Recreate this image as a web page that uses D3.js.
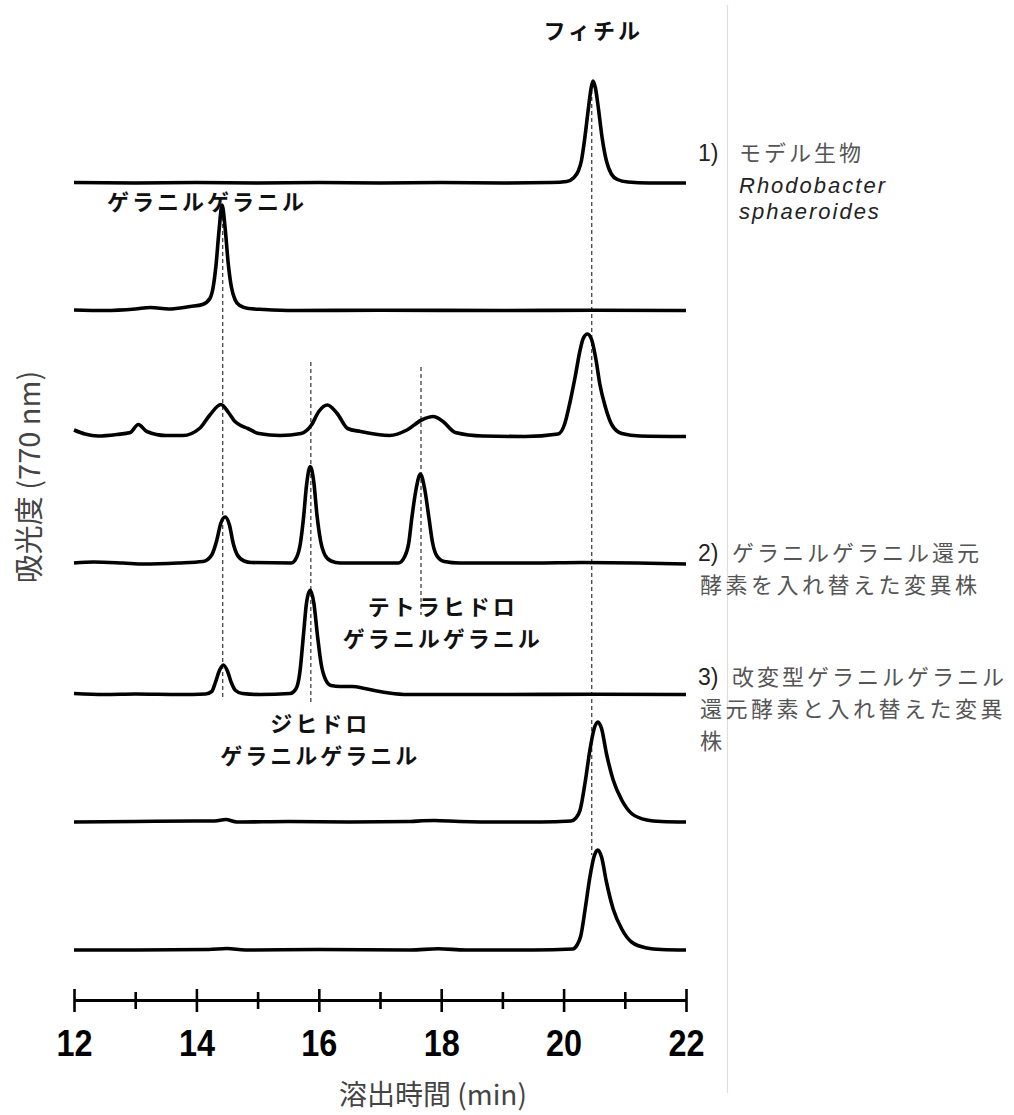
<!DOCTYPE html>
<html>
<head>
<meta charset="utf-8">
<script src="https://cdn.jsdelivr.net/npm/d3@7"></script>
<style>
  html, body { margin: 0; padding: 0; background: #fff; }
  svg { display: block; }
</style>
</head>
<body>
<svg id="chart" width="1014" height="1115"></svg>
<script>
// ---------------- DATA ----------------
const timeTicks = [12, 13, 14, 15, 16, 17, 18, 19, 20, 21, 22];
const labelTicks = [12, 14, 16, 18, 20, 22];

// vertical offsets of the stacked chromatograms (absorbance units)
const offsets = [8.17, 6.895, 5.635, 4.37, 3.055, 1.78, 0.5];

// [time (min), absorbance above trace baseline]
const trace1 = [[12,0.005],[13,0],[14,0.005],[15,0],[16,0.005],[17,0],[18,0.005],[19,0],[19.8,0.005],[20.05,0.015],[20.16,0.05],[20.24,0.12],[20.29,0.22],[20.34,0.42],[20.40,0.72],[20.45,0.95],[20.48,1.02],[20.52,0.95],[20.57,0.74],[20.63,0.45],[20.70,0.22],[20.78,0.09],[20.88,0.035],[21.05,0.01],[21.4,0],[22,0]];

const trace2 = [[12,0.005],[12.5,0],[13.0,0.015],[13.25,0.03],[13.55,0.015],[13.9,0.04],[14.1,0.06],[14.22,0.12],[14.27,0.22],[14.32,0.45],[14.37,0.80],[14.42,1.055],[14.47,0.82],[14.52,0.47],[14.57,0.24],[14.63,0.11],[14.71,0.05],[14.85,0.02],[15.1,0.01],[15.6,0],[17,0.003],[19,0],[20.5,0.003],[22,0]];

const trace3 = [[12.0,0.065],[12.18,0.025],[12.39,0.005],[12.7,0.02],[12.92,0.04],[13.05,0.12],[13.19,0.05],[13.5,0.01],[13.78,0.01],[14.05,0.08],[14.22,0.215],[14.40,0.32],[14.53,0.235],[14.63,0.15],[14.71,0.115],[14.84,0.08],[15.02,0.03],[15.37,0.01],[15.71,0.03],[15.88,0.115],[16.0,0.25],[16.14,0.315],[16.30,0.23],[16.47,0.08],[16.68,0.05],[17.16,0.01],[17.44,0.065],[17.68,0.165],[17.87,0.20],[18.03,0.15],[18.23,0.04],[18.68,0.005],[19.37,0],[19.91,0.025],[20.02,0.13],[20.10,0.33],[20.19,0.60],[20.27,0.865],[20.32,0.98],[20.39,1.025],[20.46,0.965],[20.53,0.765],[20.59,0.53],[20.68,0.30],[20.79,0.115],[20.95,0.03],[21.25,0.005],[22,0]];

const trace4 = [[12,0],[12.32,0.01],[12.8,0],[13.14,-0.01],[13.7,0],[14.11,0.015],[14.25,0.08],[14.33,0.22],[14.40,0.40],[14.47,0.46],[14.54,0.38],[14.60,0.20],[14.67,0.08],[14.78,0.02],[14.9,0.005],[15.55,0],[15.64,0.06],[15.70,0.20],[15.75,0.45],[15.80,0.78],[15.86,0.965],[15.92,0.80],[15.97,0.48],[16.03,0.22],[16.10,0.08],[16.2,0.02],[16.35,0],[17.3,0],[17.40,0.06],[17.47,0.20],[17.52,0.45],[17.59,0.74],[17.66,0.89],[17.73,0.74],[17.80,0.45],[17.86,0.20],[17.93,0.07],[18.05,0.015],[18.3,0],[19.5,0],[20.3,0.005],[21.2,0],[22,-0.01]];

const trace5 = [[12,0.01],[12.5,0],[13,0.005],[13.73,0],[14.15,0.005],[14.25,0.03],[14.31,0.12],[14.37,0.23],[14.44,0.295],[14.51,0.23],[14.57,0.12],[14.64,0.04],[14.75,0.01],[15.04,0],[15.53,0.01],[15.63,0.06],[15.69,0.22],[15.75,0.60],[15.80,0.92],[15.86,1.045],[15.92,0.91],[15.98,0.58],[16.04,0.30],[16.11,0.15],[16.2,0.09],[16.35,0.08],[16.55,0.08],[16.75,0.06],[16.95,0.035],[17.15,0.015],[17.45,0],[19,0],[20.5,0.003],[22,0]];

const trace6 = [[12,0],[13,0.005],[13.97,0.01],[14.3,0.01],[14.48,0.025],[14.66,0],[15.5,0.005],[16.5,0],[17.5,0.005],[17.69,0.012],[17.89,0.015],[18.3,0.005],[19,0],[19.61,0],[20.12,0.01],[20.2,0.04],[20.27,0.12],[20.35,0.39],[20.43,0.72],[20.50,0.935],[20.56,1.0],[20.62,0.935],[20.70,0.685],[20.81,0.42],[20.95,0.22],[21.11,0.085],[21.36,0.02],[21.6,0.005],[22,0]];

const trace7 = [[12,0],[13,0],[14.2,0.005],[14.5,0.015],[14.8,0],[16,0.005],[17.5,0],[17.95,0.012],[18.4,0],[19.5,0],[20.15,0.01],[20.22,0.05],[20.28,0.14],[20.35,0.40],[20.43,0.73],[20.50,0.94],[20.56,1.0],[20.62,0.93],[20.70,0.68],[20.81,0.41],[20.95,0.21],[21.11,0.08],[21.36,0.02],[21.6,0.005],[22,0]];

const traces = [trace1, trace2, trace3, trace4, trace5, trace6, trace7];

// reference dashed lines: retention time, top and bottom (absorbance units)
const dashTimes  = [14.43, 15.87, 17.67, 20.46];
const dashTop    = [7.90, 6.38, 6.33, 9.10];
const dashBottom = [3.00, 2.98, 3.85, 1.45];

// texts
const peakLabels = [
  { lines: ["フィチル"], t: 20.46, v: 9.615 },
  { lines: ["ゲラニルゲラニル"], t: 14.15, v: 7.90 },
  { lines: ["テトラヒドロ", "ゲラニルゲラニル"], t: 18.0, v: 3.85 },
  { lines: ["ジヒドロ", "ゲラニルゲラニル"], t: 16.0, v: 2.68 }
];
const xTitle = "溶出時間 (min)";
const yTitle = "吸光度 (770 nm)";
const strainLabels = [
  { num: "1)", lines: ["モデル生物"], latin: ["Rhodobacter", "sphaeroides"] },
  { num: "2)", lines: ["ゲラニルゲラニル還元", "酵素を入れ替えた変異株"] },
  { num: "3)", lines: ["改変型ゲラニルゲラニル", "還元酵素と入れ替えた変異", "株"] }
];

// ---------------- DRAW ----------------
const svg = d3.select("#chart");
svg.append("rect").attr("width", 1014).attr("height", 1115).attr("fill", "#fff");

const x = d3.scaleLinear().domain([12, 22]).range([74, 686]);
const y = d3.scaleLinear().domain([0, 10]).range([1000, 0]);

// faint divider at the right
svg.append("line")
  .attr("x1", 727.5).attr("x2", 727.5).attr("y1", 5).attr("y2", 1093)
  .attr("stroke", "#dedede").attr("stroke-width", 1.2);

// dashed reference lines
svg.append("g").selectAll("line").data(dashTimes).join("line")
  .attr("x1", d => x(d)).attr("x2", d => x(d))
  .attr("y1", (d, i) => y(dashTop[i])).attr("y2", (d, i) => y(dashBottom[i]))
  .attr("stroke", "#333").attr("stroke-width", 1.2)
  .attr("stroke-dasharray", "4,3");

// traces
traces.forEach((tr, i) => {
  const line = d3.line()
    .x(d => x(d[0]))
    .y(d => y(d[1] + offsets[i]))
    .curve(d3.curveMonotoneX);
  svg.append("path")
    .datum(tr)
    .attr("d", line)
    .attr("fill", "none")
    .attr("stroke", "#000")
    .attr("stroke-width", 3.6)
    .attr("stroke-linejoin", "round")
    .attr("stroke-linecap", "butt");
});

// x axis
const axis = d3.axisBottom(x)
  .tickValues(timeTicks)
  .tickSizeOuter(0)
  .tickFormat(d => labelTicks.includes(d) ? String(d) : "");
const ax = svg.append("g").attr("transform", `translate(0,${y(0)})`).call(axis);
ax.select(".domain").attr("stroke", "#000").attr("stroke-width", 3);
ax.selectAll(".tick line")
  .attr("stroke", "#000")
  .attr("stroke-width", 2.6)
  .attr("y1", d => labelTicks.includes(d) ? -11 : -8)
  .attr("y2", d => labelTicks.includes(d) ? 12 : 9);
ax.selectAll(".tick text")
  .attr("y", 56).attr("dy", 0)
  .attr("fill", "#000")
  .style("font-family", "'Liberation Sans', Arial, sans-serif")
  .style("font-weight", "700")
  .style("font-size", "36px")
  .filter(d => labelTicks.includes(d))
  .attr("textLength", 36)
  .attr("lengthAdjust", "spacingAndGlyphs");

// axis titles
svg.append("text")
  .attr("x", 339).attr("y", 1105)
  .style("font-family", "'Noto Sans CJK JP', sans-serif")
  .style("font-size", "28px")
  .attr("fill", "#444")
  .text(xTitle);

svg.append("text")
  .attr("transform", "translate(40,477) rotate(-90)")
  .attr("text-anchor", "middle")
  .style("font-family", "'Noto Sans CJK JP', sans-serif")
  .style("font-size", "29px")
  .attr("fill", "#444")
  .text(yTitle);

// peak labels (bold), one text element per label block
peakLabels.forEach(p => {
  const t = svg.append("text")
    .attr("text-anchor", "middle")
    .style("font-family", "'Noto Sans CJK JP', sans-serif")
    .style("font-weight", "700")
    .style("font-size", "22px")
    .style("letter-spacing", "3px")
    .attr("fill", "#111");
  p.lines.forEach((ln, j) => {
    t.append("tspan")
      .attr("x", x(p.t) + 1.5)
      .attr("y", y(p.v) + j * 32)
      .text(ln);
  });
});

// strain labels on the right
const jp = "'Noto Sans CJK JP', sans-serif";
const lat = "'Liberation Sans', Arial, sans-serif";
const strainY = [161, 561, 685];
strainLabels.forEach((s, i) => {
  const t = svg.append("text")
    .attr("x", 698).attr("y", strainY[i])
    .style("font-size", "22px");
  t.append("tspan")
    .attr("x", 698).attr("y", strainY[i])
    .style("font-family", lat).style("font-size", "23px").attr("fill", "#222")
    .text(s.num);
  s.lines.forEach((ln, j) => {
    t.append("tspan")
      .attr("x", j === 0 ? (i === 0 ? 739 : 732) : 700)
      .attr("y", strainY[i] + j * 32)
      .style("font-family", jp).attr("fill", "#555")
      .style("letter-spacing", j === 0 ? "3px" : "3.5px")
      .text(ln);
  });
  (s.latin || []).forEach((ln, j) => {
    t.append("tspan")
      .attr("x", 739)
      .attr("y", strainY[i] + 32 + j * 26)
      .style("font-family", lat).style("font-style", "italic")
      .style("letter-spacing", "2px")
      .attr("fill", "#222")
      .text(ln);
  });
});
</script>
</body>
</html>
